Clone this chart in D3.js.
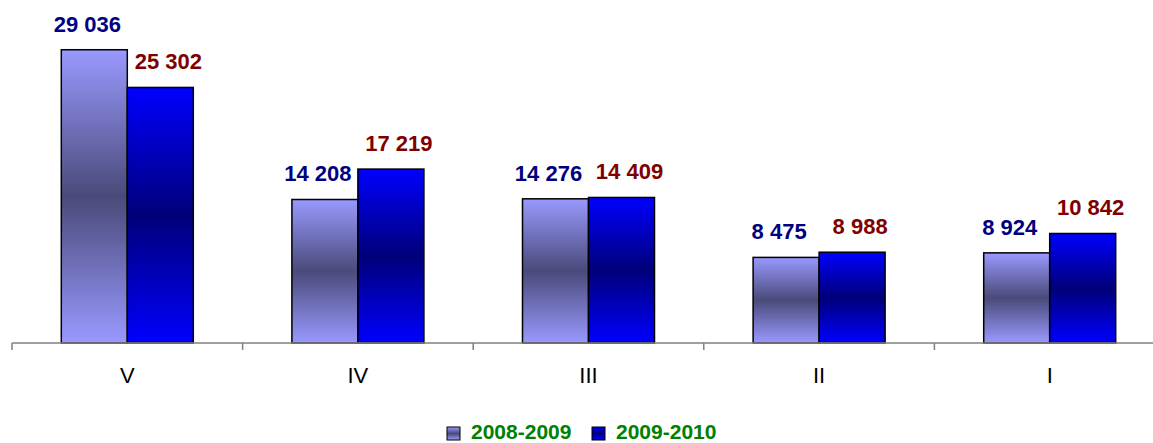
<!DOCTYPE html>
<html>
<head>
<meta charset="utf-8">
<script src="https://cdn.jsdelivr.net/npm/d3@7"></script>
<style>
  body { margin: 0; background: #fff; }
  svg { display: block; font-family: Arial, "Liberation Sans", sans-serif; }
</style>
</head>
<body>
<div id="chart"></div>
<script>
// categories and the two seasons
var categories = ["V", "IV", "III", "II", "I"];
var seriesNames = ["2008-2009", "2009-2010"];
var values0809 = [29036, 14208, 14276, 8475, 8924];
var values0910 = [25302, 17219, 14409, 8988, 10842];

var W = 1153, H = 443;
var baseY = 343;

var svg = d3.select("#chart").append("svg")
    .attr("width", W)
    .attr("height", H);

var defs = svg.append("defs");
var grads = [
    {id: "g0", light: "#9999FF", dark: "#4A4A7A"},
    {id: "g1", light: "#0000FF", dark: "#00007A"}
];
grads.forEach(function (g) {
    var lg = defs.append("linearGradient")
        .attr("id", g.id)
        .attr("x1", 0).attr("y1", 0).attr("x2", 0).attr("y2", 1);
    lg.append("stop").attr("offset", "0%").attr("stop-color", g.light);
    lg.append("stop").attr("offset", "50%").attr("stop-color", g.dark);
    lg.append("stop").attr("offset", "100%").attr("stop-color", g.light);
});

var x0 = d3.scaleBand()
    .domain(categories)
    .range([12, 12 + 5 * 230.6])
    .paddingInner(0)
    .paddingOuter(0);

var bw = x0.bandwidth();
var x1 = d3.scaleBand()
    .domain(seriesNames)
    .range([bw / 2 - 66, bw / 2 + 66]);

var y = d3.scaleLinear()
    .domain([0, 30000])
    .range([baseY, 40]);

var labelColors = ["#000080", "#800000"];

var rows = categories.map(function (c, i) {
    return {cat: c, vals: [values0809[i], values0910[i]]};
});

var groups = svg.selectAll("g.cat")
    .data(rows)
    .enter().append("g")
    .attr("class", "cat")
    .attr("transform", function (d) { return "translate(" + x0(d.cat) + ",0)"; });

groups.selectAll("rect")
    .data(function (d) { return d.vals.map(function (v, j) { return {s: seriesNames[j], v: v, j: j}; }); })
    .enter().append("rect")
    .attr("x", function (d) { return x1(d.s); })
    .attr("y", function (d) { return y(d.v); })
    .attr("width", x1.bandwidth())
    .attr("height", function (d) { return baseY - y(d.v); })
    .style("fill", function (d) { return "url(#g" + d.j + ")"; })
    .style("stroke", "#000")
    .style("stroke-width", 1.5);

var fmt = function (v) { return d3.format(",")(v).replace(/,/g, " "); };

groups.selectAll("text.val")
    .data(function (d) { return d.vals.map(function (v, j) { return {s: seriesNames[j], v: v, j: j}; }); })
    .enter().append("text")
    .attr("class", "val")
    .attr("x", function (d) { return x1(d.s) + x1.bandwidth() / 2 + (d.j == 0 ? -7 : 8); })
    .attr("y", function (d) { return y(d.v) - 18; })
    .attr("text-anchor", "middle")
    .style("font-size", "22px")
    .style("font-weight", "bold")
    .style("fill", function (d) { return labelColors[d.j]; })
    .text(function (d) { return fmt(d.v); });

// category axis
var axis = d3.axisBottom(x0).tickSize(0).tickPadding(0);
var ax = svg.append("g")
    .attr("transform", "translate(0," + baseY + ")")
    .call(axis);
ax.select(".domain").remove();
ax.selectAll("text")
    .attr("y", 40)
    .attr("dy", 0)
    .style("font-size", "22px")
    .style("font-family", "Arial, 'Liberation Sans', sans-serif")
    .style("fill", "#000");

ax.append("line")
    .attr("x1", 12).attr("x2", W)
    .attr("y1", 0).attr("y2", 0)
    .style("stroke", "#808080")
    .style("stroke-width", 1.5);

ax.selectAll("line.sep")
    .data(categories)
    .enter().append("line")
    .attr("class", "sep")
    .attr("x1", function (d) { return x0(d); })
    .attr("x2", function (d) { return x0(d); })
    .attr("y1", 0).attr("y2", 7)
    .style("stroke", "#808080")
    .style("stroke-width", 1.5);

// legend
var legend = svg.append("g").attr("transform", "translate(447,427)");
var legX = [0, 145];
seriesNames.forEach(function (name, j) {
    var g = legend.append("g").attr("transform", "translate(" + legX[j] + ",0)");
    g.append("rect")
        .attr("width", 13).attr("height", 13)
        .style("fill", "url(#g" + j + ")")
        .style("stroke", "#000")
        .style("stroke-width", 1);
    g.append("text")
        .attr("x", 24).attr("y", 12)
        .style("font-size", "21px")
        .style("font-weight", "bold")
        .style("fill", "#008000")
        .text(name);
});
</script>
</body>
</html>
